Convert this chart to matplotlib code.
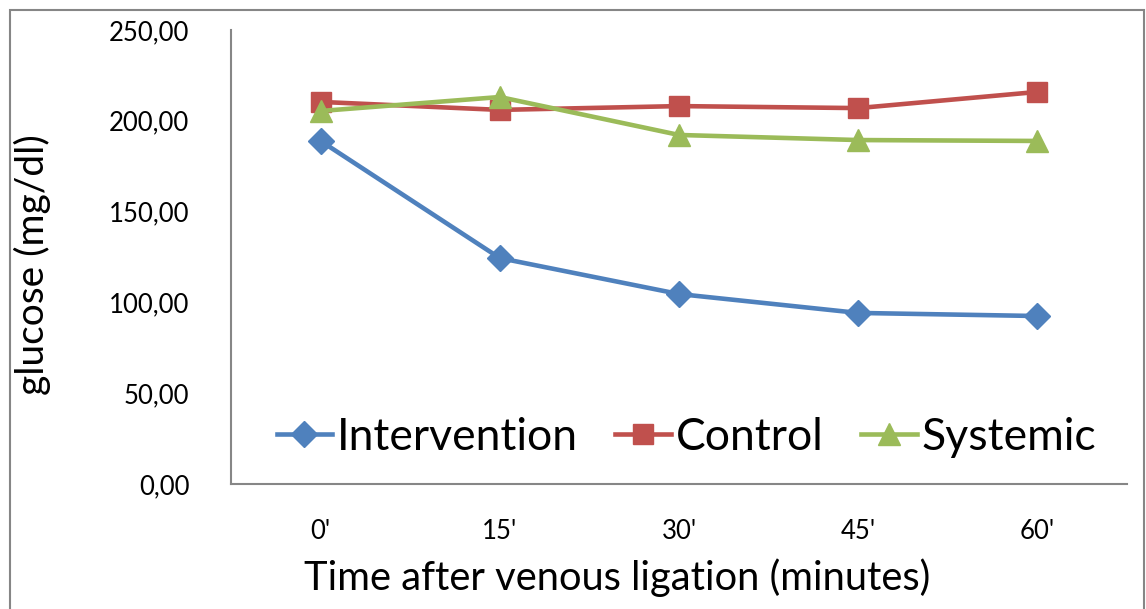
import matplotlib.pyplot as plt
from matplotlib.patches import Rectangle

plt.rcParams['font.family'] = ['Lato', 'DejaVu Sans']

# data
times = ["0'", "15'", "30'", "45'", "60'"]
intervention = [188.9, 124.4, 104.6, 94.2, 92.5]
control = [210.4, 206.0, 208.1, 207.0, 215.9]
systemic = [205.4, 213.1, 192.2, 189.4, 188.9]
yticks = [0, 50, 100, 150, 200, 250]

W, H = 1146, 609
fig = plt.figure(figsize=(W / 100, H / 100), dpi=100)
ax = fig.add_axes([231/W, 1 - 484/H, (1127 - 231)/W, (484 - 30)/H])

x = [i + 0.5 for i in range(len(times))]
ax.plot(x, intervention, color='#4F81BD', lw=3.3, marker='D', ms=13, label='Intervention')
ax.plot(x, control, color='#C0504D', lw=3.3, marker='s', ms=14.5, label='Control')
ax.plot(x, systemic, color='#9BBB59', lw=3.3, marker='^', ms=16, label='Systemic')

ax.set_xlim(0, 5)
ax.set_ylim(0, 250)
ax.set_xticks(x)
ax.set_xticklabels(times, fontsize=18.5)
ax.set_yticks(yticks)
ax.set_yticklabels([f"{v:.2f}".replace('.', ',') for v in yticks], fontsize=18.5)
ax.tick_params(length=0)
ax.tick_params(axis='y', pad=30)
ax.tick_params(axis='x', pad=25)
for s in ['top', 'right']:
    ax.spines[s].set_visible(False)
for s in ['left', 'bottom']:
    ax.spines[s].set_color('#868686')
    ax.spines[s].set_linewidth(1.5)

# axis titles placed in figure pixels as in the original
fig.text(617/W, 1 - 578/H, 'Time after venous ligation (minutes)', fontsize=28.7,
         ha='center', va='center')
fig.text(32/W, 1 - 265/H, 'glucose (mg/dl)', fontsize=28, rotation=90,
         ha='center', va='center')

ax.legend(loc='center', bbox_to_anchor=(0.508, 47/454), ncol=3, frameon=False,
          fontsize=32, handlelength=1.25, columnspacing=0.85, handletextpad=0.1,
          borderpad=0)

# outer chart border
fig.patches.append(Rectangle((10/W, -0.05), (1144 - 10)/W, 1.05 - 10/H,
                             transform=fig.transFigure, fill=False,
                             edgecolor='#868686', lw=1.5, clip_on=False))

fig.savefig('out.png', dpi=100)
